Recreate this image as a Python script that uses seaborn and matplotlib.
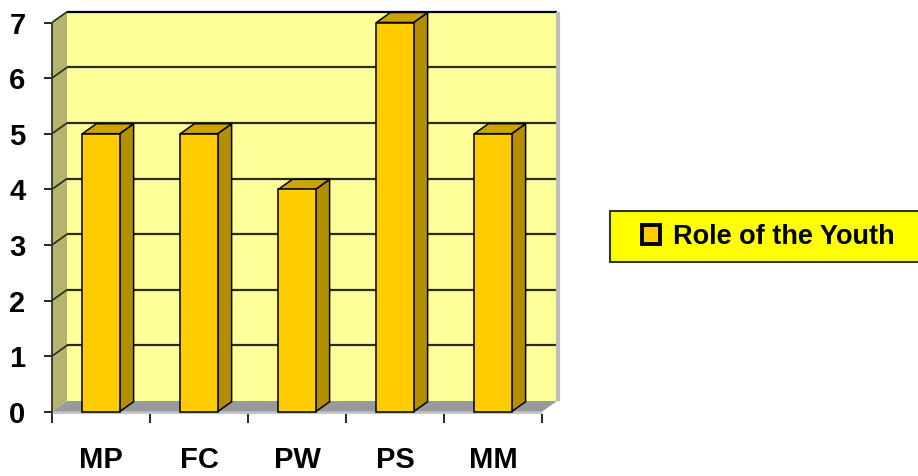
import matplotlib
matplotlib.use("Agg")
import matplotlib.pyplot as plt
from matplotlib.patches import Polygon, Rectangle, Patch
import seaborn as sns

# Chart data
categories = ["MP", "FC", "PW", "PS", "MM"]
values = [5, 5, 4, 7, 5]
series_name = "Role of the Youth"
y_ticks = [0, 1, 2, 3, 4, 5, 6, 7]

# Colours
BAR_FRONT = "#FFCC00"
BAR_SIDE = "#B38F00"
BAR_TOP = "#CCA300"
WALL_BACK = "#FFFF99"
WALL_SIDE = "#B4B46E"
FLOOR = "#999999"
FLOOR_EDGE = "#C4C4C4"
LEGEND_BG = "#FFFF00"

sns.set_theme(style="white")
plt.rcParams["font.family"] = ["Liberation Sans", "DejaVu Sans"]
plt.rcParams["font.weight"] = "bold"
plt.rcParams["text.color"] = "black"
plt.rcParams["xtick.labelcolor"] = "black"
plt.rcParams["ytick.labelcolor"] = "black"

W, H = 918, 476
fig = plt.figure(figsize=(W / 100, H / 100), dpi=100)
fig.patch.set_facecolor("white")

# pixel geometry of the front plane
PX_CAT = 98.0      # pixels per category
PX_VAL = 55.6      # pixels per value unit
X_LEFT = 52        # pixel of the front-left corner
Y_ZERO = 411.7     # pixel of value 0 on the front plane
AX_RIGHT, AX_TOP, AX_BOTTOM = 562, 8, 414

ax = fig.add_axes([X_LEFT / W, (H - AX_BOTTOM) / H,
                   (AX_RIGHT - X_LEFT) / W, (AX_BOTTOM - AX_TOP) / H])

# depth offsets (data units)
dxw, dyw = 15 / PX_CAT, 10.7 / PX_VAL   # walls
dxb, dyb = 14 / PX_CAT, 10.0 / PX_VAL   # bars
bw = 0.38
n = len(categories)
xl, xr = -0.5, n - 0.5
vmax = max(y_ticks)

# back wall
ax.add_patch(Rectangle((xl + dxw, dyw), xr - xl, vmax, facecolor=WALL_BACK,
                       edgecolor="none", zorder=0))
# left wall
ax.add_patch(Polygon([(xl, 0), (xl, vmax), (xl + dxw, vmax + dyw), (xl + dxw, dyw)],
                     closed=True, facecolor=WALL_SIDE, edgecolor="none", zorder=1))
# gridlines on back and side wall
for v in y_ticks[1:]:
    col = "black" if v == vmax else "#2b2b1a"
    ax.plot([xl + dxw, xr + dxw], [v + dyw, v + dyw], color=col, lw=1.6, zorder=1.5,
            solid_capstyle="butt")
    ax.plot([xl, xl + dxw], [v, v + dyw], color="#2b2b1a", lw=1.2, zorder=1.5)
# right edge of back wall
ax.plot([xr + dxw + 0.012, xr + dxw + 0.012], [dyw, vmax + dyw], color="#BDBDBD",
        lw=3, zorder=1.6, solid_capstyle="butt")
# floor
ax.add_patch(Polygon([(xl, 0), (xr, 0), (xr + dxw, dyw), (xl + dxw, dyw)],
                     closed=True, facecolor=FLOOR, edgecolor="none", zorder=2))
ax.add_patch(Rectangle((xl, -2.3 / PX_VAL), xr - xl, 2.3 / PX_VAL,
                       facecolor=FLOOR_EDGE, edgecolor="none", zorder=2))

# bar front faces
sns.barplot(x=categories, y=values, ax=ax, width=bw, color=BAR_FRONT,
            saturation=1, edgecolor="black", linewidth=1.1, zorder=5)

# bar side and top faces
for i, v in enumerate(values):
    l, r = i - bw / 2, i + bw / 2
    ax.add_patch(Polygon([(r, 0), (r, v), (r + dxb, v + dyb), (r + dxb, dyb)],
                         closed=True, facecolor=BAR_SIDE, edgecolor="black",
                         lw=1.1, zorder=4))
    ax.add_patch(Polygon([(l, v), (r, v), (r + dxb, v + dyb), (l + dxb, v + dyb)],
                         closed=True, facecolor=BAR_TOP, edgecolor="black",
                         lw=1.1, zorder=4))

ax.set_xlim(xl, xl + (AX_RIGHT - X_LEFT) / PX_CAT)
ax.set_ylim((Y_ZERO - AX_BOTTOM) / PX_VAL, (Y_ZERO - AX_TOP) / PX_VAL)

for s in ["top", "right", "bottom"]:
    ax.spines[s].set_visible(False)
ax.spines["left"].set_color("#333333")
ax.spines["left"].set_linewidth(1.3)
ax.spines["left"].set_bounds(ax.get_ylim()[0], vmax)
ax.spines["left"].set_zorder(3)

ax.set_yticks(y_ticks)
ax.set_yticklabels([str(t) for t in y_ticks], fontsize=21, fontweight="bold")
ax.tick_params(axis="y", direction="out", length=6, width=1.2, color="black", pad=13,
               left=True, labelcolor="black")
ax.set_xticks(range(n))
ax.set_xticklabels(categories, fontsize=21, fontweight="bold")
ax.set_xticks([k - 0.5 for k in range(n + 1)], minor=True)
ax.tick_params(axis="x", which="major", length=0, pad=23, bottom=True,
               labelcolor="black")
ax.tick_params(axis="x", which="minor", direction="out", length=6.5, width=1.2,
               color="black", bottom=True)
ax.set_xlabel("")
ax.set_ylabel("")
ax.grid(False)
ax.set_facecolor("none")

# legend box
fig.add_artist(Rectangle((610 / W, (H - 262) / H), 330 / W, 51 / H,
                         transform=fig.transFigure, facecolor=LEGEND_BG,
                         edgecolor="#333333", lw=1.5, clip_on=False, zorder=1))
handle = Patch(facecolor=BAR_FRONT, edgecolor="black", lw=2.8)
leg = fig.legend([handle], [series_name], loc="center left",
                 bbox_to_anchor=(642 / W, (H - 237) / H), frameon=False,
                 prop={"size": 19.5, "weight": "bold"}, handlelength=0.68,
                 handleheight=0.68, handletextpad=0.45, borderpad=0, borderaxespad=0)
for t in leg.get_texts():
    t.set_color("black")

fig.savefig("out.png", dpi=100, facecolor="white")
